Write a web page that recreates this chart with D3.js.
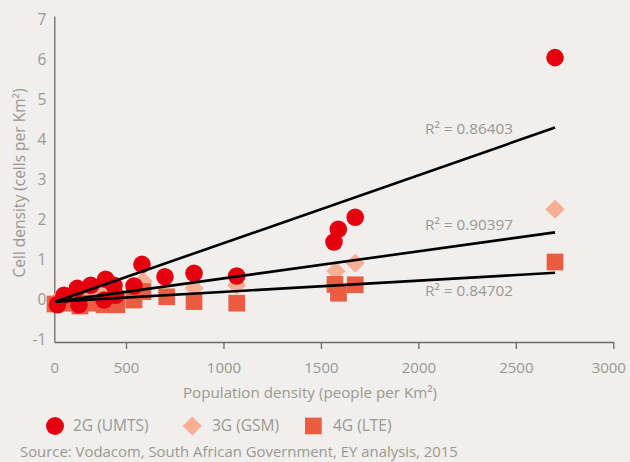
<!DOCTYPE html>
<html>
<head>
<meta charset="utf-8">
<script src="https://cdn.jsdelivr.net/npm/d3@7"></script>
<style>
  html, body { margin: 0; padding: 0; background: #f0efed; }
  svg { display: block; }
  text { font-family: "Open Sans", sans-serif; fill: #9b988d; }
</style>
</head>
<body>
<svg id="chart" width="630" height="462"></svg>
<script>
// ---- data ----
const xTicks = [0, 500, 1000, 1500, 2000, 2500, 3000];
const yTicks = [-1, 0, 1, 2, 3, 4, 5, 6, 7];

const umtsX = [22, 68, 160, 172, 254, 347, 358, 416, 428, 541, 582, 700, 849, 1068, 1567, 1589, 1676, 2701];
const umtsY = [-0.12, 0.12, 0.29, -0.12, 0.37, 0.0, 0.52, 0.37, 0.12, 0.35, 0.89, 0.58, 0.67, 0.60, 1.45, 1.77, 2.07, 6.06];

const gsmX = [22, 68, 160, 172, 254, 347, 358, 416, 428, 541, 587, 849, 1067, 1577, 1676, 2701];
const gsmY = [0.0, 0.08, 0.15, 0.0, 0.2, 0.05, 0.25, 0.2, 0.1, 0.15, 0.47, 0.30, 0.37, 0.72, 0.92, 2.27];

const lteX = [5, 68, 179, 254, 347, 437, 541, 587, 709, 849, 1068, 1572, 1590, 1676, 2701];
const lteY = [-0.1, -0.08, -0.15, -0.08, -0.12, -0.12, 0.0, 0.21, 0.08, -0.04, -0.08, 0.39, 0.17, 0.38, 0.95];

const trendX = [10, 2701];
const trend2G = [-0.04, 4.31];
const trend3G = [-0.04, 1.69];
const trend4G = [-0.04, 0.68];

const r2Labels = ["R\u00B2 = 0.86403", "R\u00B2 = 0.90397", "R\u00B2 = 0.84702"];
const r2X = [2034, 2034, 2034];
const r2Y = [4.28, 1.875, 0.23];

const seriesNames = ["2G (UMTS)", "3G (GSM)", "4G (LTE)"];
const xTitle = "Population density (people per Km\u00B2)";
const yTitle = "Cell density (cells per Km\u00B2)";
const sourceText = "Source: Vodacom, South African Government, EY analysis, 2015";

// ---- styles ----
const cRed = "#e5000f", cDiamond = "#f6ae94", cSquare = "#ea5d40";

const svg = d3.select("#chart");

const x = d3.scaleLinear().domain([0, 500, 3000]).range([54.3, 126, 613.3]);
const y = d3.scaleLinear().domain([-1.05, 7.1]).range([342, 16]);

// axes
const xAxis = d3.axisBottom(x).tickValues(xTicks).tickSize(7).tickSizeOuter(0).tickPadding(13).tickFormat(d => String(d));
const gx = svg.append("g").attr("transform", `translate(0,${y(-1.05)})`).call(xAxis);
gx.select(".domain").attr("stroke", "#6a6a6a").attr("stroke-width", 1.3);
gx.selectAll(".tick line").attr("stroke", "#6a6a6a").attr("stroke-width", 1.3)
  .filter(d => d === 0).remove();
gx.selectAll(".tick text").attr("fill", "#9b988d").style("font-size", "15px").style("font-family", "'Open Sans', sans-serif");
gx.selectAll(".tick text").filter(d => d === 3000).attr("dx", "-5");

const yAxis = d3.axisLeft(y).tickValues(yTicks).tickSize(0).tickSizeOuter(0).tickPadding(8).tickFormat(d => String(d));
const gy = svg.append("g").attr("transform", `translate(${x(0)},0)`).call(yAxis);
gy.select(".domain").attr("stroke", "#6a6a6a").attr("stroke-width", 1.3);
gy.selectAll(".tick text").attr("fill", "#9b988d").style("font-size", "15.5px").style("font-family", "'Open Sans', sans-serif");

// marks
const plot = svg.append("g");
const diamond = d3.symbol().type(d3.symbolSquare).size(185);

plot.selectAll(".gsm").data(gsmX.map((v, i) => [v, gsmY[i]])).join("path")
  .attr("d", diamond)
  .attr("transform", d => `translate(${x(d[0])},${y(d[1])}) rotate(45)`)
  .attr("fill", cDiamond);

const sq = 16.7;
plot.selectAll(".lte").data(lteX.map((v, i) => [v, lteY[i]])).join("rect")
  .attr("x", d => x(d[0]) - sq / 2).attr("y", d => y(d[1]) - sq / 2)
  .attr("width", sq).attr("height", sq).attr("fill", cSquare);

plot.selectAll(".umts").data(umtsX.map((v, i) => [v, umtsY[i]])).join("circle")
  .attr("cx", d => x(d[0])).attr("cy", d => y(d[1])).attr("r", 8.8).attr("fill", cRed);

// trendlines
const line = d3.line().x(d => x(d[0])).y(d => y(d[1]));
[trend2G, trend3G, trend4G].forEach(t => {
  plot.append("path").datum(trendX.map((v, i) => [v, t[i]]))
    .attr("d", line).attr("fill", "none").attr("stroke", "#000").attr("stroke-width", 2.6);
});

// R2 labels
svg.selectAll(".r2").data(r2Labels).join("text")
  .attr("x", (d, i) => x(r2X[i])).attr("y", (d, i) => y(r2Y[i]))
  .attr("dy", "0.35em").style("font-size", "15.3px").text(d => d);

// axis titles
svg.append("text").attr("x", 310).attr("y", 398)
  .attr("text-anchor", "middle").style("font-size", "15.2px").text(xTitle);
svg.append("text").attr("transform", `translate(25,183) rotate(-90)`)
  .attr("text-anchor", "middle").style("font-size", "15.5px").text(yTitle);

// legend
const lg = svg.append("g").attr("transform", "translate(0,426)");
lg.append("circle").attr("cx", 55).attr("cy", 0).attr("r", 9).attr("fill", cRed);
lg.append("path").attr("d", diamond).attr("transform", "translate(192.3,0) rotate(45)").attr("fill", cDiamond);
lg.append("rect").attr("x", 305).attr("y", -8.4).attr("width", 16.7).attr("height", 16.7).attr("fill", cSquare);
const lgX = [73, 212, 333];
lg.selectAll("text.lg").data(seriesNames).join("text")
  .attr("x", (d, i) => lgX[i]).attr("y", 0).attr("dy", "0.35em")
  .style("font-size", "15.5px").text(d => d);

svg.append("text").attr("x", 20).attr("y", 452).attr("dy", "0.35em")
  .style("font-size", "14.9px").text(sourceText);
</script>
</body>
</html>
